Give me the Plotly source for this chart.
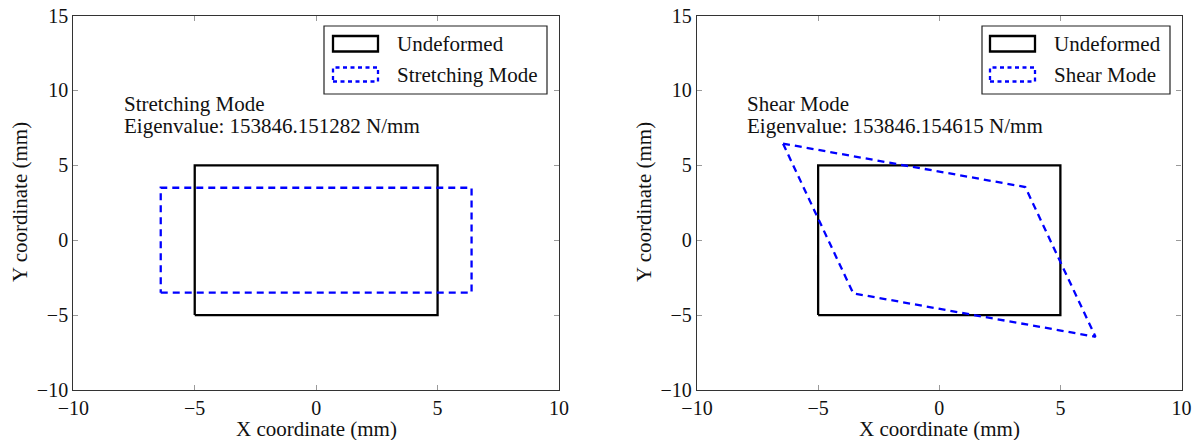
import plotly.graph_objects as go

# Reference (undeformed) square element, mm
undeformed_x = [-5, 5, 5, -5, -5]
undeformed_y = [-5, -5, 5, 5, -5]

# Stretching mode shape, mm
stretch_x = [-6.4, 6.4, 6.4, -6.4, -6.4]
stretch_y = [-3.5, -3.5, 3.5, 3.5, -3.5]

# Shear mode shape, mm
shear_x = [-6.45, 3.55, 6.45, -3.55, -6.45]
shear_y = [6.45, 3.55, -6.45, -3.55, 6.45]

mode_names = ["Stretching Mode", "Shear Mode"]
eigenvalues = ["153846.151282", "153846.154615"]

x_range = [-10, 10]
y_range = [-10, 15]
tick_step = 5

W, H = 1198, 440
FONT = "'Liberation Serif'"
TXT = "#111111"
BLUE = "#0000ff"
DASH = "7px,5px"


def px(x, y):
    """Pixel position -> paper coordinates."""
    return x / W, 1 - y / H


fig = go.Figure()

shapes_per_panel = [(stretch_x, stretch_y), (shear_x, shear_y)]
for i, (sx, sy) in enumerate(shapes_per_panel):
    xa = "x" if i == 0 else "x2"
    ya = "y" if i == 0 else "y2"
    fig.add_trace(go.Scatter(
        x=undeformed_x, y=undeformed_y, mode="lines", xaxis=xa, yaxis=ya,
        line=dict(color="black", width=2.3), showlegend=False, hoverinfo="skip"))
    fig.add_trace(go.Scatter(
        x=sx, y=sy, mode="lines", xaxis=xa, yaxis=ya,
        line=dict(color=BLUE, width=2.3, dash=DASH), showlegend=False, hoverinfo="skip"))

axis_common = dict(
    showgrid=False, zeroline=False, showline=True, linecolor="#333333", linewidth=1.3,
    mirror="allticks", ticks="inside", ticklen=5, tickcolor="#9a9a9a", tickwidth=1,
    dtick=tick_step, tick0=0, automargin=False,
    tickfont=dict(family=FONT, size=20, color=TXT),
)

y_dom = [1 - 390 / H, 1 - 15.5 / H]
fig.update_layout(
    template="none",
    width=W, height=H, autosize=False,
    margin=dict(l=0, r=0, t=0, b=0, pad=0),
    paper_bgcolor="white", plot_bgcolor="white",
    font=dict(family=FONT, color=TXT),
    showlegend=False,
    xaxis=dict(domain=[73.3 / W, 559 / W], range=x_range, anchor="y", **axis_common),
    yaxis=dict(domain=y_dom, range=y_range, anchor="x", **axis_common),
    xaxis2=dict(domain=[697 / W, 1181.5 / W], range=x_range, anchor="y2", **axis_common),
    yaxis2=dict(domain=y_dom, range=y_range, anchor="x2", **axis_common),
)

annotations = []
shapes = []

# axis titles
for cx, cy in [(316, 429), (939, 429)]:
    px_x, px_y = px(cx, cy)
    annotations.append(dict(x=px_x, y=px_y, xref="paper", yref="paper", text="X coordinate (mm)",
                            showarrow=False, xanchor="center", yanchor="middle",
                            font=dict(family=FONT, size=21, color=TXT)))
for cx in [20, 644]:
    px_x, px_y = px(cx, 202)
    annotations.append(dict(x=px_x, y=px_y, xref="paper", yref="paper", text="Y coordinate (mm)",
                            showarrow=False, textangle=-90, xanchor="center", yanchor="middle",
                            font=dict(family=FONT, size=21, color=TXT)))

# mode description text
for i, (name, ev) in enumerate(zip(mode_names, eigenvalues)):
    xr = "x" if i == 0 else "x2"
    yr = "y" if i == 0 else "y2"
    annotations.append(dict(x=-8, y=9.1, xref=xr, yref=yr, text=name, showarrow=False,
                            xanchor="left", yanchor="middle",
                            font=dict(family=FONT, size=21, color=TXT)))
    annotations.append(dict(x=-8, y=7.62, xref=xr, yref=yr, text=f"Eigenvalue: {ev} N/mm",
                            showarrow=False, xanchor="left", yanchor="middle",
                            font=dict(family=FONT, size=21, color=TXT)))

# legend boxes drawn in pixel layout
legend_boxes = [
    dict(box=(324, 26, 547, 94), sample=(333, 378), text_x=395, label=mode_names[0]),
    dict(box=(982, 26, 1170, 94), sample=(990, 1035), text_x=1052, label=mode_names[1]),
]
for lg in legend_boxes:
    x0, y0, x1, y1 = lg["box"]
    a0, b0 = px(x0, y0)
    a1, b1 = px(x1, y1)
    shapes.append(dict(type="rect", xref="paper", yref="paper", x0=a0, y0=b1, x1=a1, y1=b0,
                       line=dict(color="#222222", width=1.2), fillcolor="white", layer="above"))
    s0, s1 = lg["sample"]
    rows = [(36, 51.5, "black", "solid", "Undeformed", 44), (67.5, 81.5, BLUE, "4px,3.5px", lg["label"], 74.5)]
    for top, bot, col, dash, lab, ty in rows:
        p0, q0 = px(s0, top)
        p1, q1 = px(s1, bot)
        shapes.append(dict(type="rect", xref="paper", yref="paper", x0=p0, y0=q1, x1=p1, y1=q0,
                           line=dict(color=col, width=2.3, dash=dash), layer="above"))
        tx, tyy = px(lg["text_x"], ty)
        annotations.append(dict(x=tx, y=tyy, xref="paper", yref="paper", text=lab, showarrow=False,
                                xanchor="left", yanchor="middle",
                                font=dict(family=FONT, size=21, color=TXT)))

fig.update_layout(annotations=annotations, shapes=shapes)
fig.write_html("out.html")
